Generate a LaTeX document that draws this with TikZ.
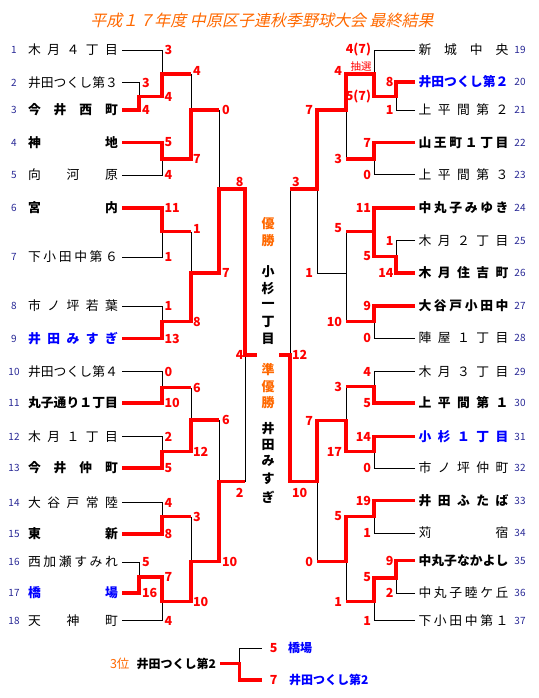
\documentclass[tikz,border=0pt]{standalone}
\usepackage{fontspec}
\newfontfamily\jp{Noto Sans CJK JP}
\newfontfamily\jpsl{Noto Sans CJK JP}[FakeSlant=0.22]
\definecolor{wred}{RGB}{255,0,0}
\definecolor{tblue}{RGB}{0,0,255}
\definecolor{rowblue}{RGB}{40,40,150}
\definecolor{orng}{RGB}{255,105,0}
\newcounter{scn}
\def\spreadaux#1{\ifx\relax#1\else#1\hfill\expandafter\spreadaux\fi}
\newcommand\spreadtext[1]{\spreadaux#1\relax\unskip}
\tikzset{
  base/.style={inner sep=0pt, outer sep=0pt},
  nm/.style={base, font=\jp\fontsize{12.8}{13}\selectfont},
  nb/.style={base, font=\jp\bfseries\fontsize{12.8}{13}\selectfont},
  nbb/.style={nb, text=tblue},
  rnum/.style={base, font=\jp\fontsize{10}{10}\selectfont, text=rowblue},
  scL/.style={base, anchor=west, font=\jp\bfseries\fontsize{12.5}{13}\selectfont, text=wred},
  scR/.style={scL, anchor=east},
  scC/.style={scL, anchor=center},
  ctr/.style={base, font=\jp\bfseries\fontsize{13}{13}\selectfont},
  ctro/.style={ctr, text=orng},
  win/.style={draw=wred, line width=3.4pt, line join=miter},
  lose/.style={draw=black, line width=0.9pt},
}
\newcommand\teamL[4]{%
  \node[#3, anchor=west] (t#1) at (28,#2) {\makebox[90pt][l]{\spreadtext{#4}}};
  \node[rnum] (r#1) at (14,#2) {#1};
  \coordinate (e#1) at ([xshift=4pt]t#1.east);}
\newcommand\teamR[4]{%
  \node[#3, anchor=west] (t#1) at (418.5,#2) {\makebox[90pt][l]{\spreadtext{#4}}};
  \node[rnum] (r#1) at (520,#2) {#1};
  \coordinate (e#1) at ([xshift=-3.5pt]t#1.west);}
\newcommand\scr[4]{\stepcounter{scn}\edef\scname{s\arabic{scn}}\node[#1] (\scname) at (#2,#3) {#4};}
\begin{document}
\begin{tikzpicture}[x=1pt,y=-1pt]
\fill[white] (0,0) rectangle (538,698);
\useasboundingbox (0,0) rectangle (538,698);
\node[base, font=\jpsl\fontsize{16}{16}\selectfont, text=orng] (title) at (262,20) {平成１７年度 中原区子連秋季野球大会 最終結果};
% left teams
\teamL{1}{50}{nm}{木月４丁目}
\teamL{2}{82.5}{nm}{井田つくし第３}
\teamL{3}{110}{nb}{今井西町}
\teamL{4}{142.5}{nb}{神地}
\teamL{5}{175}{nm}{向河原}
\teamL{6}{208}{nb}{宮内}
\teamL{7}{257}{nm}{下小田中第６}
\teamL{8}{306}{nm}{市ノ坪若葉}
\teamL{9}{338.5}{nbb}{井田みすぎ}
\teamL{10}{371.5}{nm}{井田つくし第４}
\teamL{11}{403}{nb}{丸子通り１丁目}
\teamL{12}{436.5}{nm}{木月１丁目}
\teamL{13}{468}{nb}{今井仲町}
\teamL{14}{502.5}{nm}{大谷戸常陸}
\teamL{15}{534}{nb}{東新}
\teamL{16}{562}{nm}{西加瀬すみれ}
\teamL{17}{593}{nbb}{橋場}
\teamL{18}{620.5}{nm}{天神町}
% right teams
\teamR{19}{50}{nm}{新城中央}
\teamR{20}{82}{nbb}{井田つくし第２}
\teamR{21}{110}{nm}{上平間第２}
\teamR{22}{142.5}{nb}{山王町１丁目}
\teamR{23}{174.5}{nm}{上平間第３}
\teamR{24}{208}{nb}{中丸子みゆき}
\teamR{25}{240.5}{nm}{木月２丁目}
\teamR{26}{273}{nb}{木月住吉町}
\teamR{27}{306}{nb}{大谷戸小田中}
\teamR{28}{338}{nm}{陣屋１丁目}
\teamR{29}{371.5}{nm}{木月３丁目}
\teamR{30}{403}{nb}{上平間第１}
\teamR{31}{436.5}{nbb}{小杉１丁目}
\teamR{32}{468}{nm}{市ノ坪仲町}
\teamR{33}{500.5}{nb}{井田ふたば}
\teamR{34}{533}{nm}{苅宿}
\teamR{35}{560.5}{nb}{中丸子なかよし}
\teamR{36}{593}{nm}{中丸子睦ケ丘}
\teamR{37}{620.5}{nm}{下小田中第１}
% losing lines (left)
\draw[lose] (e1) -| (162,74);
\draw[lose] (e2) -| (139,96.5);
\draw[lose] (191,74) -- (191,110);
\draw[lose] (e5) -| (162,159);
\draw[lose] (219,110) -- (219,189);
\draw[lose] (e7) -| (162,231.5);
\draw[lose] (191,231.5) -- (191,273);
\draw[lose] (e8) -| (162,321.5);
\draw[lose] (e10) -| (162,387.5);
\draw[lose] (191,387.5) -- (191,420);
\draw[lose] (e12) -| (162,451.5);
\draw[lose] (219,420) -- (219,481.5);
\draw[lose] (e14) -| (162,516.5);
\draw[lose] (191,516.5) -- (191,561.5);
\draw[lose] (e16) -| (139,577);
\draw[lose] (e18) -| (162,601.5);
\draw[lose] (245,481.5) -- (245,355);
% losing lines (right)
\draw[lose] (e19) -| (374,74);
\draw[lose] (e21) -| (396,96.5);
\draw[lose] (e23) -| (374,159);
\draw[lose] (346,110) -- (346,159);
\draw[lose] (317,189) -- (317,273) -- (346,273);
\draw[lose] (e25) -| (396,256.5);
\draw[lose] (346,231.5) -- (346,321.5);
\draw[lose] (e28) -| (374,321.5);
\draw[lose] (290,189) -- (290,355);
\draw[lose] (e29) -| (374,386.5);
\draw[lose] (346,386.5) -- (346,420.5);
\draw[lose] (e32) -| (374,451.5);
\draw[lose] (317,481.5) -- (317,561.5);
\draw[lose] (e34) -| (374,516.5);
\draw[lose] (e36) -| (396,578);
\draw[lose] (e37) -| (374,601.5);
\draw[lose] (346,561.5) -- (346,601.5);
% winning lines (left)
\draw[win] (e3) -| (139,96.5) -| (162,74) -- (191,74);
\draw[win] (e4) -| (162,159) -| (191,110) -- (219,110);
\draw[win] (e6) -| (162,231.5) -- (191,231.5);
\draw[win] (e9) -| (162,321.5) -| (191,273) -| (219,189) -| (245,355) -- (257,355);
\draw[win] (e11) -| (162,387.5) -- (191,387.5);
\draw[win] (e13) -| (162,451.5) -| (191,420) -- (219,420);
\draw[win] (e15) -| (162,516.5) -- (191,516.5);
\draw[win] (e17) -| (139,577) -| (162,601.5) -| (191,561.5) -| (219,481.5) -- (245,481.5);
% winning lines (right)
\draw[win] (e20) -| (396,96.5) -| (374,74) -| (346,110) -| (317,189) -- (290,189);
\draw[win] (e22) -| (374,159) -- (346,159);
\draw[win] (e24) -| (374,231.5) -- (346,231.5);
\draw[win] (e26) -| (396,256.5) -| (374,231.5);
\draw[win] (e27) -| (374,321.5) -- (346,321.5);
\draw[win] (e30) -| (374,386.5) -- (346,386.5);
\draw[win] (e31) -| (374,451.5) -| (346,420.5) -| (317,481.5) -| (290,355) -- (279,355);
\draw[win] (e33) -| (374,516.5) -| (346,561.5) -- (317,561.5);
\draw[win] (e35) -| (396,578) -| (374,601.5) -- (346,601.5);
% scores left
\scr{scL}{142}{82.5}{3}
\scr{scL}{142}{110}{4}
\scr{scL}{142}{562}{5}
\scr{scL}{142}{593}{16}
\scr{scL}{164.5}{50}{3}
\scr{scL}{164.5}{96.5}{4}
\scr{scL}{164.5}{142.5}{5}
\scr{scL}{164.5}{175}{4}
\scr{scL}{164.5}{208}{11}
\scr{scL}{164.5}{257}{1}
\scr{scL}{164.5}{306}{1}
\scr{scL}{164.5}{338.5}{13}
\scr{scL}{164.5}{371.5}{0}
\scr{scL}{164.5}{403}{10}
\scr{scL}{164.5}{436.5}{2}
\scr{scL}{164.5}{468}{5}
\scr{scL}{164.5}{502.5}{4}
\scr{scL}{164.5}{534}{8}
\scr{scL}{164.5}{577}{7}
\scr{scL}{164.5}{620.5}{4}
\scr{scL}{193}{71}{4}
\scr{scL}{193}{159}{7}
\scr{scL}{193}{229}{1}
\scr{scL}{193}{321.5}{8}
\scr{scL}{193}{387.5}{6}
\scr{scL}{193}{451.5}{12}
\scr{scL}{193}{516.5}{3}
\scr{scL}{193}{601.5}{10}
\scr{scL}{222}{110}{0}
\scr{scL}{222}{273}{7}
\scr{scL}{222}{420}{6}
\scr{scL}{222}{561.5}{10}
\scr{scR}{243.5}{181.5}{8}
\scr{scR}{243.5}{355}{4}
\scr{scR}{243.5}{493}{2}
% scores right
\scr{scR}{393.5}{82}{8}
\scr{scR}{393.5}{110}{1}
\scr{scR}{393.5}{240.5}{1}
\scr{scR}{393.5}{273}{14}
\scr{scR}{393.5}{560.5}{9}
\scr{scR}{393.5}{593}{2}
\scr{scR}{371}{50}{4(7)}
\scr{scR}{371}{96.5}{5(7)}
\scr{scR}{371}{142.5}{7}
\scr{scR}{371}{174.5}{0}
\scr{scR}{371}{208}{11}
\scr{scR}{371}{256.5}{5}
\scr{scR}{371}{306}{9}
\scr{scR}{371}{338}{0}
\scr{scR}{371}{371.5}{4}
\scr{scR}{371}{403}{5}
\scr{scR}{371}{436.5}{14}
\scr{scR}{371}{468}{0}
\scr{scR}{371}{500.5}{19}
\scr{scR}{371}{533}{1}
\scr{scR}{371}{577.5}{5}
\scr{scR}{371}{620.5}{1}
\scr{scR}{342}{71}{4}
\scr{scR}{342}{159}{3}
\scr{scR}{342}{228.5}{5}
\scr{scR}{342}{322}{10}
\scr{scR}{342}{386.5}{3}
\scr{scR}{342}{452}{17}
\scr{scR}{342}{516.5}{5}
\scr{scR}{342}{602}{1}
\scr{scR}{313}{110}{7}
\scr{scR}{313}{273}{1}
\scr{scR}{313}{420.5}{7}
\scr{scR}{313}{561.5}{0}
\scr{scL}{292}{181.5}{3}
\scr{scL}{292}{355}{12}
\scr{scL}{292}{493}{10}
\node[base, font=\jp\fontsize{10.5}{11}\selectfont, text=wred] (lot) at (361,66.5) {抽選};
% centre labels
\node[ctro] (c1) at (268,224) {優};
\node[ctro] (c2) at (268,241) {勝};
\node[ctr] (c3) at (268,272) {小};
\node[ctr] (c4) at (268,288.5) {杉};
\node[ctr] (c5) at (268,305) {一};
\node[ctr] (c6) at (268,322) {丁};
\node[ctr] (c7) at (268,339) {目};
\node[ctro] (c8) at (268,370) {準};
\node[ctro] (c9) at (268,387) {優};
\node[ctro] (c10) at (268,403) {勝};
\node[ctr] (c11) at (268,428.5) {井};
\node[ctr] (c12) at (268,444.5) {田};
\node[ctr] (c13) at (268,461) {み};
\node[ctr] (c14) at (268,479) {す};
\node[ctr] (c15) at (268,497) {ぎ};
% third place
\node[base, anchor=west, font=\jp\fontsize{12.5}{13}\selectfont, text=orng] (p3) at (110,663.5) {3位};
\node[base, anchor=west, font=\jp\bfseries\fontsize{12}{12}\selectfont] (p3t) at (136.5,663.5) {井田つくし第2};
\coordinate (p3e) at ([xshift=4pt]p3t.east);
\scr{scC}{273.7}{648.3}{5}
\scr{scC}{273.7}{680}{7}
\node[base, anchor=west, font=\jp\bfseries\fontsize{12}{12}\selectfont, text=tblue] (p3a) at (288,648.3) {橋場};
\node[base, anchor=west, font=\jp\bfseries\fontsize{12}{12}\selectfont, text=tblue] (p3b) at (289,680) {井田つくし第2};
\coordinate (p3ae) at (261.7,648.3);
\coordinate (p3be) at (261.7,680);
\draw[lose] (239.3,663.5) |- (p3ae);
\draw[win] (p3e) -| (239.3,680) -- (p3be);
\end{tikzpicture}
\end{document}
